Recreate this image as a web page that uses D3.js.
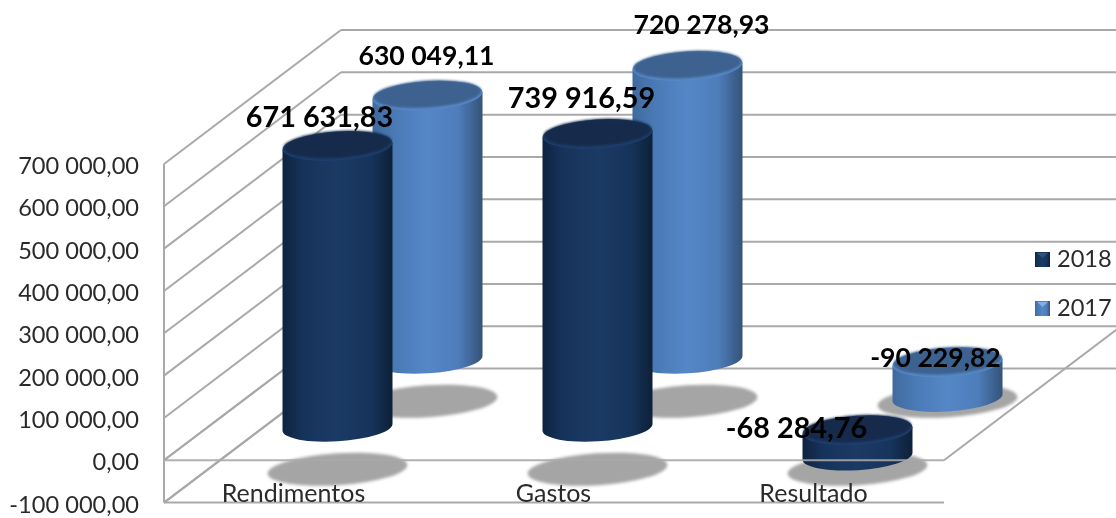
<!DOCTYPE html>
<html><head><meta charset="utf-8">
<script src="https://cdn.jsdelivr.net/npm/d3@7"></script>
<style>html,body{margin:0;padding:0;background:#fff;overflow:hidden}svg{display:block}
text{font-family:Lato,"Liberation Sans",sans-serif}</style></head><body>
<svg id="c" width="1116" height="518"></svg>
<script>
const categories = ["Rendimentos","Gastos","Resultado"];
const seriesNames = ["2018","2017"];
const values2018 = [671631.83, 739916.59, -68284.76];
const values2017 = [630049.11, 720278.93, -90229.82];
const tickValues = [700000,600000,500000,400000,300000,200000,100000,0,-100000];
const tickLabels = ["700 000,00","600 000,00","500 000,00","400 000,00","300 000,00","200 000,00","100 000,00","0,00","-100 000,00"];
const labels2018 = ["671 631,83","739 916,59","-68 284,76"];
const labels2017 = ["630 049,11","720 278,93","-90 229,82"];

const svg = d3.select("#c");
const defs = svg.append("defs");
const y = d3.scaleLinear().domain([-100000,700000]).range([502.6,164]).clamp(true);
const x = d3.scalePoint().domain(categories).range([293.5,813.5]);
const depthX = d3.scaleOrdinal().domain(["front","2018","2017","back"]).range([0,44,134,177]);
const depthY = d3.scaleOrdinal().domain(["front","2018","2017","back"]).range([0,33,101,134]);
const leftX = 164, rightX = 944, grid = "#a9a9a9";
const rx = 55, ry = 14, tilt = -3.7, dy = 3.5, topDrop = 3;

function grad(id, stops){
  const g = defs.append("linearGradient").attr("id",id);
  stops.forEach(([o,c])=>g.append("stop").attr("offset",o).attr("stop-color",c));
}
grad("b2018",[[0,"#0e2340"],[.18,"#16335a"],[.5,"#1b3a64"],[.8,"#16345b"],[1,"#0d2038"]]);
grad("b2017",[[0,"#3f6a9e"],[.2,"#4a7ab5"],[.5,"#5586c7"],[.78,"#4e7dba"],[1,"#345379"]]);
const f = defs.append("filter").attr("id","soft").attr("x","-20%").attr("y","-40%").attr("width","140%").attr("height","180%");
f.append("feGaussianBlur").attr("stdDeviation",1.5);
const t = defs.append("filter").attr("id","txt");
t.append("feGaussianBlur").attr("stdDeviation",0.35);
const tt = defs.append("filter").attr("id","rim").attr("x","-10%").attr("y","-30%").attr("width","120%").attr("height","160%");
tt.append("feGaussianBlur").attr("stdDeviation",1);

// back wall, left wall and floor lines
const g0 = svg.append("g").attr("stroke",grid).attr("stroke-width",2).attr("fill","none");
tickValues.forEach(v=>{
  g0.append("line").attr("x1",leftX).attr("y1",y(v))
    .attr("x2",leftX+depthX("back")).attr("y2",y(v)-depthY("back"));
  g0.append("line").attr("x1",leftX+depthX("back")).attr("y1",y(v)-depthY("back"))
    .attr("x2",1116).attr("y2",y(v)-depthY("back"));
});
g0.append("line").attr("x1",leftX).attr("x2",leftX).attr("y1",y(700000)).attr("y2",y(-100000));
g0.append("line").attr("x1",leftX).attr("x2",rightX).attr("y1",y(-100000)).attr("y2",y(-100000));
g0.append("line").attr("x1",rightX).attr("y1",y(0)).attr("x2",rightX+depthX("back")).attr("y2",y(0)-depthY("back"));

// shadows
const shadowGroup = svg.append("g").attr("filter","url(#soft)");
["2017","2018"].forEach(s=>{
  categories.forEach(c=>{
    shadowGroup.append("ellipse")
      .attr("cx",x(c)+depthX(s)).attr("cy",y(0)-depthY(s)+42)
      .attr("rx",70).attr("ry",16).attr("fill","#a5a5a5")
      .attr("transform",`rotate(${tilt} ${x(c)+depthX(s)} ${y(0)-depthY(s)+42})`);
  });
});
// floor diagonals stay visible over the shadows
const g1 = svg.append("g").attr("stroke",grid).attr("stroke-width",2).attr("fill","none");
[0,-100000].forEach(v=>g1.append("line").attr("x1",leftX).attr("y1",y(v))
   .attr("x2",leftX+depthX("back")).attr("y2",y(v)-depthY("back")));

function cylinder(s, c, v, top, rim){
  const cx = x(c)+depthX(s);
  const yTop = Math.min(y(v),y(0))-depthY(s)+topDrop;
  const yBot = Math.max(y(v),y(0))-depthY(s);
  const g = svg.append("g");
  g.append("path").attr("fill",`url(#b${s})`)
   .attr("d",`M${cx-rx},${yTop+dy} L${cx-rx},${yBot+dy} A${rx},${ry} ${tilt} 0 0 ${cx+rx},${yBot-dy} L${cx+rx},${yTop-dy} Z`);
  const tr = `rotate(${tilt} ${cx} ${yTop})`;
  g.append("ellipse").attr("cx",cx).attr("cy",yTop).attr("rx",rx).attr("ry",ry+.5).attr("fill",rim).attr("transform",tr);
  g.append("ellipse").attr("cx",cx).attr("cy",yTop-1.5).attr("rx",rx-1).attr("ry",ry-.5).attr("fill",top).attr("transform",tr).attr("filter","url(#rim)");
}
categories.forEach((c,i)=>cylinder("2017",c,values2017[i],"#3c6290","#5889c9"));
categories.forEach((c,i)=>cylinder("2018",c,values2018[i],"#132a4c","#1e4070"));

// front floor line on top of the bars
svg.append("line").attr("x1",leftX).attr("x2",rightX).attr("y1",y(0)).attr("y2",y(0))
   .attr("stroke",grid).attr("stroke-width",2).attr("opacity",.9);

const textLayer = svg.append("g").attr("filter","url(#txt)");
const ink = "#2b2b2b";
// value axis labels
textLayer.append("g").selectAll("text").data(tickValues).join("text")
  .attr("x",139).attr("y",d=>y(d)+10).attr("text-anchor","end")
  .attr("font-size",23.6).attr("fill",ink)
  .text((d,i)=>tickLabels[i]);
// category labels
textLayer.append("g").selectAll("text").data(categories).join("text")
  .attr("x",d=>x(d)).attr("y",y(-100000)-0.5).attr("text-anchor","middle")
  .attr("font-size",25).attr("fill",ink).text(d=>d);

// value labels
const nudge2018 = [[-18,-26],[-16,-33],[-61,1]];
const nudge2017 = [[-1,-38],[14,-39],[-12,-2]];
function dataLabels(s, vals, txt, nudge, size){
  categories.forEach((c,i)=>{
    textLayer.append("text").attr("x",x(c)+depthX(s)+nudge[i][0])
      .attr("y",Math.min(y(vals[i]),y(0))-depthY(s)+nudge[i][1]+10)
      .attr("text-anchor","middle").attr("font-size",size).attr("font-weight",700).attr("fill","#000")
      .text(txt[i]);
  });
}
dataLabels("2018",values2018,labels2018,nudge2018,28.8);
dataLabels("2017",values2017,labels2017,nudge2017,26.6);

// legend
const lg = svg.append("g");
seriesNames.forEach((s,i)=>{
  const ly = 252+i*49;
  lg.append("rect").attr("x",1035).attr("y",ly).attr("width",15).attr("height",15).attr("fill",`url(#b${s})`);
  lg.append("path").attr("d",`M1037,${ly+1} L1048,${ly+1} L1042.5,${ly+6} Z`).attr("fill",s==="2018"?"#2c5080":"#7fb0ea");
  textLayer.append("text").attr("x",1057).attr("y",ly+15).attr("font-size",23.6).attr("fill",ink).text(s);
});
</script></body></html>
